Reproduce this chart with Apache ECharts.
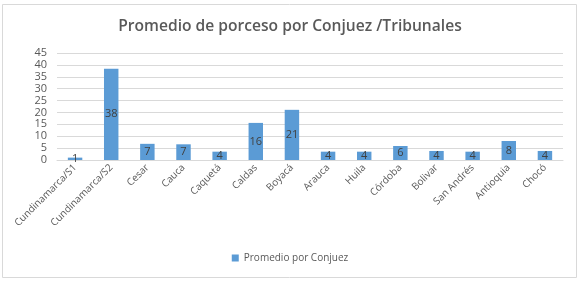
<!DOCTYPE html>
<html>
<head>
<meta charset="utf-8">
<script src="https://cdn.jsdelivr.net/npm/echarts@6/dist/echarts.min.js"></script>
<style>
  html, body { margin: 0; padding: 0; background: #fff; }
  #chart { width: 580px; height: 282px; }
</style>
</head>
<body>
<div id="chart"></div>
<script>
// data
const categories = ['Cundinamarca/S1', 'Cundinamarca/S2', 'Cesar', 'Cauca', 'Caquetá', 'Caldas', 'Boyacá',
  'Arauca', 'Huila', 'Córdoba', 'Bolivar', 'San Andrés', 'Antioquia', 'Chocó'];
const promedio = [1.0, 38.4, 6.8, 6.6, 3.5, 15.6, 21.1, 3.5, 3.5, 5.9, 3.8, 3.5, 8.0, 3.8];
const seriesName = 'Promedio por Conjuez';
const titleText = 'Promedio de porceso por Conjuez /Tribunales';

const chart = echarts.init(document.getElementById('chart'));
const font = 'Open Sans, Liberation Sans, sans-serif';

chart.setOption({
  animation: false,
  textStyle: { fontFamily: font },
  graphic: [{
    type: 'rect',
    shape: { x: 2.5, y: 4.5, width: 574, height: 273 },
    style: { fill: 'none', stroke: '#d9d9d9', lineWidth: 1 },
    silent: true,
  }],
  title: {
    text: titleText,
    left: 'center',
    top: 14,
    textStyle: { fontSize: 15.6, fontWeight: 600, color: '#595959', fontFamily: font },
  },
  legend: {
    bottom: 14,
    left: 'center',
    itemWidth: 7,
    itemHeight: 7,
    icon: 'rect',
    itemGap: 4,
    textStyle: { fontSize: 10, color: '#595959', fontFamily: font },
    data: [seriesName],
  },
  grid: { left: 57, right: 17, top: 53, bottom: 122 },
  xAxis: {
    type: 'category',
    data: categories,
    axisLine: { lineStyle: { color: '#d9d9d9' } },
    axisTick: { show: false },
    axisLabel: { rotate: 45, interval: 0, fontSize: 10, color: '#595959', margin: 6 },
  },
  yAxis: {
    type: 'value',
    min: 0,
    max: 45,
    interval: 5,
    axisLine: { show: false },
    axisTick: { show: false },
    axisLabel: { fontSize: 11, color: '#595959', margin: 10 },
    splitLine: { lineStyle: { color: '#d9d9d9' } },
  },
  series: [{
    name: seriesName,
    type: 'bar',
    data: promedio,
    barWidth: '40%',
    itemStyle: { color: '#5b9bd5' },
    label: {
      show: true,
      position: 'inside',
      fontSize: 11,
      color: '#404040',
      formatter: (p) => Math.round(p.value),
    },
  }],
});
</script>
</body>
</html>
